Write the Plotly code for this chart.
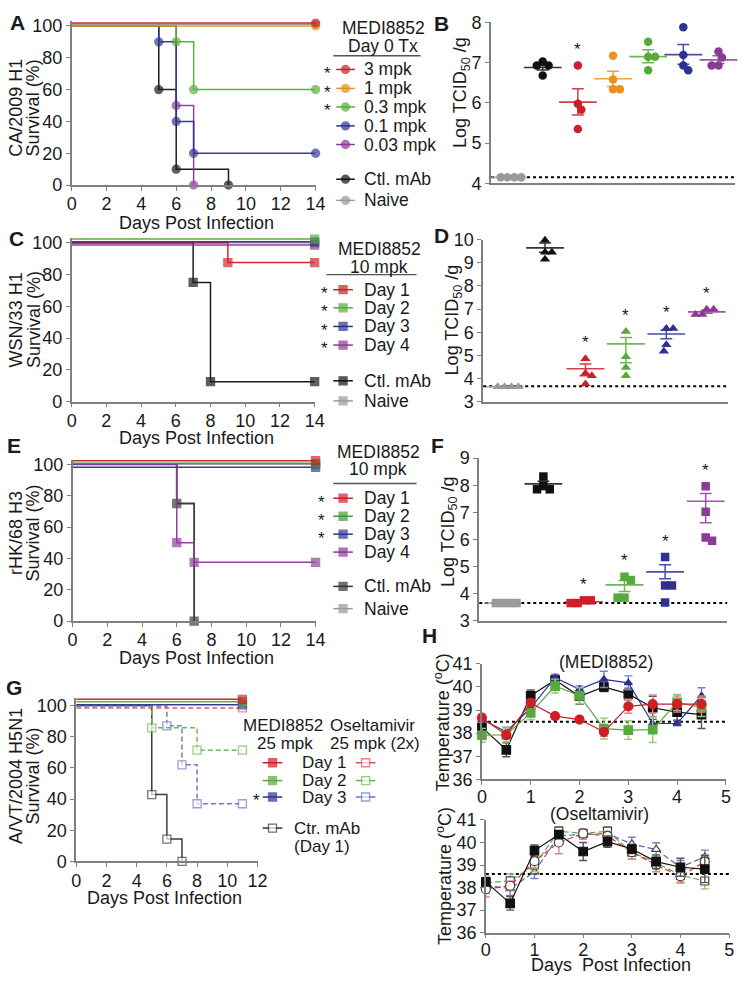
import plotly.graph_objects as go

W, H = 746, 987
FONT = "Liberation Sans, Arial, sans-serif"
AX = "#808080"
TXT = "#1a1a1a"

RED = "#cc1f26"; ORANGE = "#e8921f"; GREEN = "#57aa3a"; BLUE = "#2e3192"
PURPLE = "#8b3a96"; BLACK = "#111111"; GRAY = "#9a9a9a"; DGREEN = "#3f9a3a"

# ---------------- DATA ----------------
# A: CA/2009 H1 survival (MEDI8852 day 0)
A_t_3 = [0, 14];            A_s_3 = [100, 100]
A_t_1 = [0, 14];            A_s_1 = [100, 100]
A_t_03 = [0, 6, 7, 14];     A_s_03 = [100, 90, 60, 60]
A_t_01 = [0, 5, 6, 7, 14];  A_s_01 = [100, 90, 40, 20, 20]
A_t_003 = [0, 6, 7];        A_s_003 = [100, 50, 0]
A_t_ctl = [0, 5, 6, 9];     A_s_ctl = [100, 60, 10, 0]
A_t_naive = [0, 14];        A_s_naive = [100, 100]
A_labels = ["3 mpk", "1 mpk", "0.3 mpk", "0.1 mpk", "0.03 mpk", "Ctl. mAb", "Naive"]

# B: lung titers CA/2009
B_naive = [4.15, 4.15, 4.15, 4.15]
B_ctl = [7.03, 6.93, 6.93, 6.68]
B_3 = [6.93, 5.98, 5.83, 5.35]
B_1 = [7.17, 6.58, 6.34, 6.34]
B_03 = [7.52, 7.15, 7.15, 6.81]
B_01 = [7.88, 7.19, 6.93, 6.81]
B_003 = [7.28, 7.13, 6.93, 6.93]
B_mean = [4.15, 6.88, 6.02, 6.60, 7.15, 7.20, 7.07]
B_upper = [4.15, 6.94, 6.35, 6.79, 7.32, 7.45, 7.17]
B_lower = [4.15, 6.82, 5.70, 6.41, 7.00, 6.96, 6.98]
B_lod = 4.15

# C: WSN/33 H1 survival (10 mpk, day of treatment)
C_t_d1 = [0, 9, 14];        C_s_d1 = [100, 87.5, 87.5]
C_t_d2 = [0, 14];           C_s_d2 = [100, 100]
C_t_d3 = [0, 14];           C_s_d3 = [100, 100]
C_t_d4 = [0, 14];           C_s_d4 = [100, 100]
C_t_ctl = [0, 7, 8, 14];    C_s_ctl = [100, 75, 12.5, 12.5]
C_t_naive = [0, 14];        C_s_naive = [100, 100]
DAY_labels = ["Day 1", "Day 2", "Day 3", "Day 4", "Ctl. mAb", "Naive"]

# D: lung titers WSN/33
D_naive = [3.65, 3.65, 3.65, 3.65]
D_ctl = [9.97, 9.45, 9.45, 9.15]
D_d1 = [4.86, 4.24, 4.13, 3.77]
D_d2 = [6.03, 4.95, 4.48, 4.13]
D_d3 = [6.16, 6.16, 5.46, 5.18]
D_d4 = [7.00, 7.00, 6.77, 6.77]
D_mean = [3.65, 9.64, 4.43, 5.50, 5.93, 6.88]
D_upper = [3.65, 9.85, 4.63, 5.78, 6.09, 6.95]
D_lower = [3.65, 9.45, 4.13, 4.69, 5.72, 6.82]
D_lod = 3.67

# E: rHK/68 H3 survival
E_t_d1 = [0, 14];           E_s_d1 = [100, 100]
E_t_d2 = [0, 14];           E_s_d2 = [100, 100]
E_t_d3 = [0, 14];           E_s_d3 = [100, 100]
E_t_d4 = [0, 6, 7, 14];     E_s_d4 = [100, 50, 37.5, 37.5]
E_t_ctl = [0, 6, 7];        E_s_ctl = [100, 75, 0]
E_t_naive = [0, 14];        E_s_naive = [100, 100]

# F: lung titers rHK/68
F_naive = [3.65, 3.65, 3.65, 3.65]
F_ctl = [8.32, 7.97, 7.85, 7.85]
F_d1 = [3.75, 3.75, 3.65, 3.65]
F_d2 = [4.62, 4.50, 3.85, 3.85]
F_d3 = [5.35, 4.30, 4.30, 3.67]
F_d4 = [7.96, 7.02, 6.07, 5.95]
F_mean = [3.65, 8.05, 3.70, 4.32, 4.80, 7.41]
F_upper = [3.65, 8.15, 3.73, 4.48, 5.06, 7.69]
F_lower = [3.65, 7.95, 3.67, 4.08, 4.55, 6.61]
F_lod = 3.65

# G: A/VT/2004 H5N1 survival
G_t_m1 = [0, 11];           G_s_m1 = [100, 100]
G_t_m2 = [0, 11];           G_s_m2 = [100, 100]
G_t_m3 = [0, 11];           G_s_m3 = [100, 100]
G_t_o1 = [0, 11];           G_s_o1 = [100, 100]
G_t_o2 = [0, 5, 8, 11];     G_s_o2 = [100, 85.7, 71.4, 71.4]
G_t_o3 = [0, 6, 7, 8, 11];  G_s_o3 = [100, 87.5, 62.5, 37.5, 37.5]
G_t_ctl = [0, 5, 6, 7];     G_s_ctl = [100, 42.9, 14.3, 0]

# H: body temperature
H_days = [0, 0.5, 1, 1.5, 2, 2.5, 3, 3.5, 4, 4.5]
H1_ctl = [38.25, 37.28, 39.62, 40.30, 39.60, 40.00, 39.70, 39.10, 38.91, 38.80]
H1_d1 = [38.67, 37.92, 39.31, 38.74, 38.59, 38.06, 39.16, 39.26, 39.26, 39.26]
H1_d2 = [37.91, 37.93, 38.88, 40.04, 39.62, 38.20, 38.13, 38.15, 39.33, 39.12]
H1_d3 = [38.59, 38.06, 39.10, 40.40, 39.90, 40.33, 40.18, 38.42, 38.42, 39.62]
H1_ctl_e = [0.2, 0.3, 0.25, 0.15, 0.35, 0.2, 0.25, 0.5, 0.35, 0.6]
H1_d1_e = [0.1, 0.15, 0.15, 0.1, 0.1, 0.2, 0.3, 0.4, 0.35, 0.35]
H1_d2_e = [0.3, 0.3, 0.3, 0.3, 0.35, 0.45, 0.4, 0.55, 0.35, 0.4]
H1_d3_e = [0.1, 0.2, 0.3, 0.15, 0.15, 0.35, 0.3, 0.3, 0.1, 0.35]
H1_base = 38.5
H2_ctl = [38.25, 37.30, 39.64, 40.35, 39.60, 40.04, 39.71, 39.15, 38.90, 38.82]
H2_o1 = [37.93, 38.08, 39.17, 40.00, 40.40, 40.29, 39.57, 39.00, 38.50, 39.15]
H2_o2 = [38.20, 38.30, 39.00, 40.50, 40.40, 40.50, 39.57, 39.10, 38.55, 38.29]
H2_o3 = [38.10, 37.95, 38.70, 40.30, 40.35, 40.40, 39.93, 39.69, 38.90, 39.36]
H2_ctl_e = [0.15, 0.3, 0.25, 0.15, 0.4, 0.25, 0.2, 0.3, 0.4, 0.6]
H2_o1_e = [0.35, 0.2, 0.3, 0.5, 0.2, 0.2, 0.3, 0.3, 0.3, 0.3]
H2_o2_e = [0.3, 0.3, 0.3, 0.2, 0.15, 0.2, 0.3, 0.3, 0.3, 0.35]
H2_o3_e = [0.35, 0.3, 0.3, 0.2, 0.2, 0.25, 0.3, 0.3, 0.3, 0.3]
H2_base = 38.6

# ---------------- GEOMETRY (pixels) ----------------
GEO = {
    "A": dict(x0=68, x1=317, y0=11.4, y1=178.7, xr=[0, 14], yr=[0, 103]),
    "B": dict(x0=496, x1=745, y0=12.7, y1=177, xr=[-0.47, 6.47], yr=[4, 8]),
    "C": dict(x0=68, x1=316, y0=232.7, y1=399.6, xr=[0, 14], yr=[0, 103]),
    "D": dict(x0=488, x1=738, y0=234.3, y1=400, xr=[-0.53, 5.53], yr=[3, 10]),
    "E": dict(x0=69, x1=317, y0=458.9, y1=623.7, xr=[0, 14], yr=[0, 103]),
    "F": dict(x0=484, x1=737, y0=457.4, y1=623.3, xr=[-0.58, 5.53], yr=[3, 9]),
    "G": dict(x0=72.7, x1=257.7, y0=702, y1=869, xr=[0, 12], yr=[0, 105]),
    "H1": dict(x0=486.7, x1=735.7, y0=667.4, y1=785.3, xr=[0, 5], yr=[36, 41]),
    "H2": dict(x0=490.7, x1=739, y0=826.7, y1=941.7, xr=[0, 5], yr=[36, 41]),
}
ORDER = ["A", "B", "C", "D", "E", "F", "G", "H1", "H2"]
AXN = {k: i + 1 for i, k in enumerate(ORDER)}

fig = go.Figure()
layout = dict(width=W, height=H, margin=dict(l=0, r=0, t=0, b=0), autosize=False,
              paper_bgcolor="white", plot_bgcolor="rgba(0,0,0,0)", showlegend=False,
              font=dict(family=FONT, color=TXT))


def ref(k):
    n = AXN[k]
    return ("x" if n == 1 else f"x{n}"), ("y" if n == 1 else f"y{n}")


for k in ORDER:
    g = GEO[k]
    n = AXN[k]
    xa, ya = ref(k)
    base = dict(showline=True, linecolor=AX, linewidth=1.6, ticks="outside", ticklen=4,
                tickwidth=1.4, tickcolor=AX, showgrid=False, zeroline=False, fixedrange=True,
                tickfont=dict(family=FONT, size=18, color=TXT))
    xd = dict(base, domain=[g["x0"] / W, g["x1"] / W], range=g["xr"], anchor=ya)
    yd = dict(base, domain=[1 - g["y1"] / H, 1 - g["y0"] / H], range=g["yr"], anchor=xa)
    if k in ("A", "C", "E"):
        xd.update(tickvals=list(range(0, 15, 2)), ticklabelstandoff=-2)
        yd.update(tickvals=list(range(0, 101, 20)))
    elif k == "G":
        xd.update(tickvals=list(range(0, 13, 2)), ticklabelstandoff=-2)
        yd.update(tickvals=list(range(0, 101, 20)))
    elif k in ("B", "D", "F"):
        xd.update(ticks="", showticklabels=False)
        yd.update(dtick=1)
    else:
        xd.update(tickvals=list(range(0, 6)), ticklabelstandoff=-4)
        yd.update(tickvals=list(range(36, 42)))
    layout["xaxis" if n == 1 else f"xaxis{n}"] = xd
    layout["yaxis" if n == 1 else f"yaxis{n}"] = yd

# overlay pixel axis for legend glyphs
layout["xaxis10"] = dict(domain=[0, 1], range=[0, W], visible=False, fixedrange=True, anchor="y10")
layout["yaxis10"] = dict(domain=[0, 1], range=[H, 0], visible=False, fixedrange=True, anchor="x10")
fig.update_layout(**layout)


def P(x, y):
    return x / W, 1 - y / H


def ann(text, x, y, size=17.5, xanchor="center", yanchor="middle", angle=0, bold=False):
    px, py = P(x, y)
    if bold:
        text = f"<b>{text}</b>"
    fig.add_annotation(text=text, x=px, y=py, xref="paper", yref="paper", showarrow=False,
                       xanchor=xanchor, yanchor=yanchor, textangle=angle,
                       font=dict(family=FONT, size=size, color=TXT))


# ---------------- survival curves ----------------
def surv(k, t, s, color, symbol, dy=0.0, dash="solid", fill=None, msize=8, lw=1.5, mline=None):
    xa, ya = ref(k)
    yy = [v + dy for v in s]
    sizes = [0] + [msize] * (len(t) - 1)
    fig.add_trace(go.Scatter(
        x=t, y=yy, xaxis=xa, yaxis=ya, mode="lines+markers", cliponaxis=False,
        hoverinfo="skip",
        line=dict(color=color, width=lw, shape="hv", dash=dash),
        marker=dict(size=sizes, symbol=symbol, color=fill if fill else color,
                    line=dict(color=mline if mline else color, width=1.3)),
        opacity=0.95))


# A
surv("A", A_t_naive, A_s_naive, GRAY, "circle", dy=1.0)
surv("A", A_t_ctl, A_s_ctl, BLACK, "circle")
surv("A", A_t_003, A_s_003, PURPLE, "circle")
surv("A", A_t_01, A_s_01, BLUE, "circle")
surv("A", A_t_03, A_s_03, GREEN, "circle")
surv("A", A_t_1, A_s_1, ORANGE, "circle")
surv("A", A_t_3, A_s_3, RED, "circle", dy=1.8)

# C
surv("C", C_t_naive, C_s_naive, GRAY, "square")
surv("C", C_t_ctl, C_s_ctl, BLACK, "square")
surv("C", C_t_d1, C_s_d1, RED, "square")
surv("C", C_t_d4, C_s_d4, PURPLE, "square", dy=-1.5)
surv("C", C_t_d3, C_s_d3, BLUE, "square", dy=0.6)
surv("C", C_t_d2, C_s_d2, GREEN, "square", dy=2.3)

# E
surv("E", E_t_naive, E_s_naive, GRAY, "square")
surv("E", E_t_ctl, E_s_ctl, "#333333", "square", lw=1.8)
surv("E", E_t_d4, E_s_d4, PURPLE, "square")
surv("E", E_t_d3, E_s_d3, BLUE, "square", dy=-1.9)
surv("E", E_t_d2, E_s_d2, DGREEN, "square", dy=0.6)
surv("E", E_t_d1, E_s_d1, RED, "square", dy=2.3)

# G
DASH = "5px,3px"
surv("G", G_t_ctl, G_s_ctl, "#333333", "square", fill="white", mline="#333333")
surv("G", G_t_o3, G_s_o3, "#6f74c0", "square", dy=-0.5, dash=DASH, fill="white")
surv("G", G_t_o2, G_s_o2, "#66b84a", "square", dash=DASH, fill="white")
surv("G", G_t_o1, G_s_o1, "#e0525a", "square", dy=-1.5, dash=DASH, fill="white")
surv("G", G_t_m3, G_s_m3, BLUE, "square", dy=0.5)
surv("G", G_t_m2, G_s_m2, GREEN, "square", dy=2.5)
surv("G", G_t_m1, G_s_m1, RED, "square", dy=4.0)


# ---------------- dot plots ----------------
def swarm(vals, pxv, diam=7.0, step=0.5):
    order = sorted(range(len(vals)), key=lambda i: -vals[i])
    placed = []
    off = [0.0] * len(vals)
    total = 0.0
    for i in order:
        y = vals[i] * pxv
        j = 0
        chosen = None
        while chosen is None:
            cands = [0.0] if j == 0 else ([j * step, -j * step] if total <= 0 else [-j * step, j * step])
            for c in cands:
                if all((c - px) ** 2 + (y - py) ** 2 >= diam ** 2 for px, py in placed):
                    chosen = c
                    break
            j += 1
        placed.append((chosen, y))
        off[i] = chosen
        total += chosen
    return off


def dotpanel(k, groups, colors, symbol, means, uppers, lowers, stars, msize=8.5):
    g = GEO[k]
    xa, ya = ref(k)
    pxv = (g["y1"] - g["y0"]) / (g["yr"][1] - g["yr"][0])
    pxc = (g["x1"] - g["x0"]) / (g["xr"][1] - g["xr"][0])
    for idx, (vals, col) in enumerate(zip(groups, colors)):
        off = swarm(vals, pxv)
        xs = [idx + o / pxc for o in off]
        fig.add_trace(go.Scatter(x=xs, y=vals, xaxis=xa, yaxis=ya, mode="markers",
                                 cliponaxis=False, hoverinfo="skip",
                                 marker=dict(size=msize, symbol=symbol, color=col,
                                             line=dict(width=0))))
        m = means[idx]
        fig.add_trace(go.Scatter(
            x=[idx], y=[m], xaxis=xa, yaxis=ya, mode="markers", cliponaxis=False,
            hoverinfo="skip", opacity=0.85,
            marker=dict(symbol="line-ew", size=27, color=col, line=dict(width=1.6, color=col)),
            error_y=dict(type="data", symmetric=False, array=[uppers[idx] - m],
                         arrayminus=[m - lowers[idx]], color=col, thickness=1.5, width=6)))
        if stars[idx]:
            fig.add_annotation(text="*", x=idx, y=max(vals), xref=xa, yref=ya, showarrow=False,
                               yshift=16, font=dict(family=FONT, size=17, color=TXT))


def lod(k, val):
    xa, ya = ref(k)
    fig.add_shape(type="line", xref=f"{xa} domain", yref=ya, x0=0, x1=1, y0=val, y1=val,
                  line=dict(color="black", width=2, dash="dot"), layer="below")


lod("B", B_lod)
dotpanel("B", [B_naive, B_ctl, B_3, B_1, B_03, B_01, B_003],
         [GRAY, BLACK, RED, ORANGE, GREEN, BLUE, PURPLE], "circle",
         B_mean, B_upper, B_lower, [False, False, True, False, False, False, False])
lod("D", D_lod)
dotpanel("D", [D_naive, D_ctl, D_d1, D_d2, D_d3, D_d4],
         [GRAY, BLACK, RED, GREEN, BLUE, PURPLE], "triangle-up",
         D_mean, D_upper, D_lower, [False, False, True, True, True, True], msize=9)
lod("F", F_lod)
dotpanel("F", [F_naive, F_ctl, F_d1, F_d2, F_d3, F_d4],
         [GRAY, BLACK, RED, GREEN, BLUE, PURPLE], "square",
         F_mean, F_upper, F_lower, [False, False, True, True, True, True], msize=8.5)


# ---------------- temperature ----------------
def temp(k, y, e, color, symbol, ecolor, dash="solid", fill=None, mline=None, msize=8.5):
    xa, ya = ref(k)
    fig.add_trace(go.Scatter(
        x=H_days, y=y, xaxis=xa, yaxis=ya, mode="lines+markers", cliponaxis=False,
        hoverinfo="skip", line=dict(color=color, width=1.2, dash=dash),
        marker=dict(size=msize, symbol=symbol, color=fill if fill else color,
                    line=dict(color=mline if mline else color, width=1.2)),
        error_y=dict(type="data", array=e, color=ecolor, thickness=1.4, width=4)))


lod("H1", H1_base)
temp("H1", H1_ctl, H1_ctl_e, BLACK, "square", "#555555")
temp("H1", H1_d3, H1_d3_e, BLUE, "triangle-up", "#7b7fc4", msize=7)
temp("H1", H1_d2, H1_d2_e, GREEN, "square", "#8fcc78")
temp("H1", H1_d1, H1_d1_e, RED, "circle", "#e57d82", msize=9)

lod("H2", H2_base)
temp("H2", H2_o3, H2_o3_e, "#5a5fb8", "triangle-up", "#7b7fc4", dash="6px,3px", fill="white", mline="#444444", msize=8)
temp("H2", H2_o2, H2_o2_e, "#5aae3e", "square", "#8fcc78", dash="6px,3px", fill="white", mline="#444444", msize=8)
temp("H2", H2_o1, H2_o1_e, "#d9333b", "circle", "#e57d82", dash="6px,3px", fill="white", mline="#444444", msize=9)
temp("H2", H2_ctl, H2_ctl_e, BLACK, "square", "#555555")


# ---------------- legends (pixel overlay) ----------------
def glyph(x0, x1, y, color, symbol, fill=None, dash="solid", msize=8):
    xm = (x0 + x1) / 2
    fig.add_trace(go.Scatter(x=[x0, xm, x1], y=[y, y, y], xaxis="x10", yaxis="y10",
                             mode="lines+markers", hoverinfo="skip", cliponaxis=False,
                             line=dict(color=color, width=1.5, dash=dash),
                             marker=dict(size=[0, msize, 0], symbol=symbol,
                                         color=fill if fill else color,
                                         line=dict(color=color, width=1.3))))


def underline(x0, x1, y):
    fig.add_shape(type="line", xref="x10", yref="y10", x0=x0, x1=x1, y0=y, y1=y,
                  line=dict(color="#555555", width=1.3))


def star(x, y):
    ann("*", x, y + 4, size=17)


# A legend
ann("MEDI8852", 386, 18)
ann("Day 0 Tx", 386, 36.5)
underline(335, 424, 46.7)
A_rows = [60.7, 80, 99, 118.3, 137.3, 172.7, 194.3]
A_cols = [RED, ORANGE, GREEN, BLUE, PURPLE, BLACK, GRAY]
for i, (lab, y, c) in enumerate(zip(A_labels, A_rows, A_cols)):
    glyph(338, 357, y, c, "circle")
    ann(lab, 364, y, xanchor="left")
    if i < 3:
        star(329, y)

# C legend
ann("MEDI8852", 382, 244)
ann("10 mpk", 382, 262)
underline(328, 420, 270)
C_rows = [285.5, 304, 323, 342, 378.5, 399]
C_cols = [RED, GREEN, BLUE, PURPLE, BLACK, GRAY]
for i, (lab, y, c) in enumerate(zip(DAY_labels, C_rows, C_cols)):
    glyph(335, 355, y, c, "square")
    ann(lab, 364, y, xanchor="left")
    if i < 4:
        star(326, y)

# E legend
ann("MEDI8852", 381, 451)
ann("10 mpk", 381, 469)
underline(335, 420, 483.3)
E_rows = [498.3, 516.7, 535, 553.3, 588.3, 611]
E_cols = [RED, DGREEN, BLUE, PURPLE, "#333333", GRAY]
for i, (lab, y, c) in enumerate(zip(DAY_labels, E_rows, E_cols)):
    glyph(335, 355, y, c, "square")
    ann(lab, 364, y, xanchor="left")
    if i < 3:
        star(323, y)

# G legend
ann("MEDI8852", 241, 730, xanchor="left", size=17)
ann("Oseltamivir", 330, 730, xanchor="left", size=17)
ann("25 mpk", 255, 749, xanchor="left", size=17)
ann("25 mpk (2x)", 330, 749, xanchor="left", size=17)
G_rows = [768.3, 786.5, 803.3]
G_lcols = [RED, GREEN, BLUE]
G_rcols = ["#e0525a", "#66b84a", "#6f74c0"]
for i, (y, lc, rc) in enumerate(zip(G_rows, G_lcols, G_rcols)):
    glyph(263, 283, y, lc, "square")
    ann(f"Day {i + 1}", 301, y, xanchor="left", size=17)
    glyph(358, 378, y, rc, "square", fill="white")
    if i == 2:
        star(257, y)
glyph(263, 283, 835, "#333333", "square", fill="white")
ann("Ctr. mAb", 293, 835, xanchor="left", size=17)
ann("(Day 1)", 293, 853.3, xanchor="left", size=17)

# ---------------- titles & labels ----------------
ann("Days Post Infection", 195, 217, size=18)
ann("Days Post Infection", 195, 437, size=18)
ann("Days Post Infection", 195, 661, size=18)
ann("Days Post Infection", 163, 906, size=18)
ann("Days  Post Infection", 618, 975, size=18)

for l1, yc in [("CA/2009 H1", 100), ("WSN/33 H1", 316), ("rHK/68 H3", 534), ("A/VT/2004 H5N1", 782)]:
    ann(l1, 11, yc, size=18, angle=-90)
    ann("Survival (%)", 29, yc, size=18, angle=-90)

ann("Log TCID<sub>50</sub> /g", 466, 84, size=18, angle=-90)
ann("Log TCID<sub>50</sub> /g", 458, 316, size=18, angle=-90)
ann("Log TCID<sub>50</sub> /g", 453, 532, size=18, angle=-90)
ann("Temperature (<sup>o</sup>C)", 446, 727, size=18, angle=-90)
ann("Temperature (<sup>o</sup>C)", 448, 884, size=18, angle=-90)

ann("(MEDI8852)", 613, 665)
ann("(Oseltamivir)", 607, 821)

for L, x, y in [("A", 12.5, 12.5), ("B", 445, 14), ("C", 12, 233), ("D", 445, 230),
                ("E", 9, 445), ("F", 441, 445), ("G", 9, 692), ("H", 433, 638)]:
    ann(L, x, y, size=21, bold=True)

PIN = ("var gd=document.getElementById('{plot_id}');"
       "gd.style.position='fixed';gd.style.left='0px';gd.style.top='0px';"
       "document.body.style.margin='0px';"
       "document.documentElement.style.overflow='hidden';document.body.style.overflow='hidden';")
fig.write_html("out.html", config={"displayModeBar": False, "responsive": False}, post_script=PIN)
